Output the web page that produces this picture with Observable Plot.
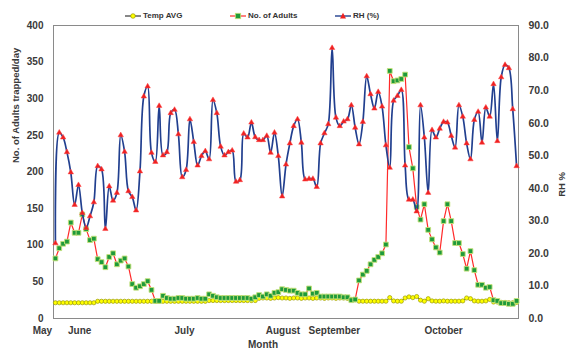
<!DOCTYPE html>
<html><head><meta charset="utf-8">
<script src="https://cdn.jsdelivr.net/npm/d3@7"></script>
<script src="https://cdn.jsdelivr.net/npm/@observablehq/plot@0.6"></script>
<style>
body{margin:0;background:#fff;}
#wrap{position:relative;width:568px;height:351px;font-family:"Liberation Sans",Arial,sans-serif;}
.leg{position:absolute;top:11px;display:flex;align-items:center;font-size:8px;font-weight:bold;color:#333;white-space:nowrap;}
.leg svg{margin-right:2px;display:block}
</style></head><body><div id="wrap"></div>
<script>
const rh = [23.1,57.1,55.6,51.1,44.9,34.9,41.0,32.4,27.8,31.4,35.7,46.8,45.8,27.5,40.6,36.2,38.6,56.3,51.2,39.1,
37.3,33.2,45.2,68.2,71.3,50.9,48.1,65.3,50.1,51.1,63.1,64.1,56.6,43.4,45.6,61.2,54.2,47.0,49.9,51.4,
48.9,67.1,63.1,52.8,50.1,51.1,51.6,42.0,42.5,56.8,55.6,60.2,55.7,54.8,54.8,56.1,50.9,57.1,49.9,37.5,
47.3,53.8,59.1,61.2,54.0,42.7,42.9,42.9,40.4,53.8,56.9,59.7,83.1,61.7,59.1,60.5,61.2,65.5,58.6,53.5,
60.4,74.4,68.9,64.5,69.6,65.1,53.2,46.3,66.9,68.4,70.2,47.0,36.5,36.5,32.9,65.5,55.6,38.6,57.9,55.6,
58.3,60.4,60.2,56.1,52.5,65.5,62.0,53.8,48.9,61.0,63.5,54.0,64.8,62.0,72.0,54.5,74.1,77.9,76.9,64.3,46.8];
const adults = [82,96,102,105,131,117,117,142,122,107,109,81,77,70,84,89,74,79,82,71,
47,42,44,47,51,39,24,24,31,28,27,27,28,28,27,27,27,28,27,27,
33,31,29,28,28,28,28,28,28,28,28,27,29,32,30,33,31,35,36,40,
39,38,38,35,33,33,41,34,35,30,30,30,30,30,30,29,29,25,26,52,
60,65,74,80,84,89,101,338,324,325,327,333,234,205,152,135,156,121,108,97,
90,133,156,133,103,103,88,68,92,66,46,46,42,43,25,24,21,21,20,20,24];
const temp = [21.5,21.5,21.5,21.5,21.5,21.5,21.5,21.5,21.5,21.5,21.5,23.5,23.5,23.5,23.5,23.5,23.5,23.5,23.5,23.5,
23.5,23.5,23.5,23.5,23.5,23.5,23.5,23.5,23.5,23.5,23.5,23.5,23.5,23.5,23.5,23.5,23.5,23.5,23.5,23.5,
24.5,24.5,24.5,24.5,24.5,24.5,24.5,24.5,24.5,24.5,24.5,24.5,24.5,27.5,28,28,27.5,28,28.5,28,
28,27.5,28,28,27.5,28,28,27.5,28,28,27.5,28,28,27.5,28,28,27.5,26,25.5,23.6,
23.6,23.6,23.6,23.6,23.6,23.6,23.6,28.5,24,23.6,23.6,28,29.5,28.5,30,25,23.6,27,24,23.6,
23.6,24,23.6,23.6,23.6,23.6,24,28,27,24,23.6,23.6,24,26,22.5,22.5,22,22,21.5,21.5,22];
const monthLabels = ["May","June","July","August","September","October"];
const monthPos = [-3.4, 6.3, 33.6, 59.2, 72.6, 101.0];
const leftTicks = [0,50,100,150,200,250,300,350,400];
const rhTicks = [0,10,20,30,40,50,60,70,80,90];
const leftMax = 400, rhMax = 90;
const yLabel = "No. of Adults trapped/day";
const y2Label = "RH %";
const xLabel = "Month";
const seriesNames = ["Temp AVG","No. of Adults","RH (%)"];

const data = rh.map((v, i) => ({i, rhY: v * leftMax / rhMax, adults: adults[i], temp: temp[i]}));
const txt = "#3a3a3a";

const chart = Plot.plot({
  width: 568, height: 351,
  marginLeft: 53, marginRight: 50, marginTop: 25, marginBottom: 33,
  style: {fontFamily: "Liberation Sans, Arial, sans-serif", background: "transparent", overflow: "visible"},
  x: {domain: [-0.5, rh.length - 0.5], axis: null},
  y: {domain: [0, leftMax], axis: null},
  marks: [
    Plot.frame({stroke: "#8a8a8a", strokeWidth: 1}),
    Plot.line(data, {x: "i", y: "temp", stroke: "#111", strokeWidth: 0.8}),
    Plot.dot(data, {x: "i", y: "temp", symbol: "circle", r: 2.1, fill: "#ffff00", stroke: "#9a9a00", strokeWidth: 0.7}),
    Plot.line(data, {x: "i", y: "adults", stroke: "#ff2a2a", strokeWidth: 1.2}),
    Plot.dot(data, {x: "i", y: "adults", symbol: "square", r: 2.7, fill: "#1e9a3a", stroke: "#c6e27a", strokeWidth: 0.9}),
    Plot.line(data, {x: "i", y: "rhY", stroke: "#213f8f", strokeWidth: 1.7, curve: "catmull-rom"}),
    Plot.dot(data, {x: "i", y: "rhY", symbol: "triangle", r: 2.0, fill: "#ee2020", stroke: "#ff4040", strokeWidth: 0.5}),
    Plot.axisY(leftTicks, {anchor: "left", tickSize: 0, tickPadding: 10, fontSize: 10, fontWeight: "bold", fill: txt, label: null}),
    Plot.axisY(rhTicks.map(t => t * leftMax / rhMax), {anchor: "right", tickSize: 0, tickPadding: 10, fontSize: 10.5, fontWeight: "bold", fill: txt, label: null, tickFormat: d => (d * rhMax / leftMax).toFixed(1)}),
    Plot.text(monthLabels, {x: (d, i) => monthPos[i], frameAnchor: "bottom", dy: 15, fontSize: 10, fontWeight: "bold", fill: txt}),
    Plot.text([xLabel], {frameAnchor: "bottom", dx: -23, dy: 29, fontSize: 10, fontWeight: "bold", fill: txt}),
    Plot.text([yLabel], {frameAnchor: "left", dx: -38, dy: -9, rotate: -90, fontSize: 9.5, fontWeight: "bold", fill: txt}),
    Plot.text([y2Label], {frameAnchor: "right", dx: 43, rotate: -90, fontSize: 9.5, fontWeight: "bold", fill: txt})
  ]
});
const wrap = document.getElementById("wrap");
wrap.appendChild(chart);

const legSyms = [
  `<line x1="0" y1="4" x2="16" y2="4" stroke="#111" stroke-width="1"/><circle cx="8" cy="4" r="2.3" fill="#ffff00" stroke="#9a9a00" stroke-width="0.7"/>`,
  `<line x1="0" y1="4" x2="16" y2="4" stroke="#ff2a2a" stroke-width="1.2"/><rect x="5.3" y="1.3" width="5.4" height="5.4" fill="#1e9a3a" stroke="#c6e27a" stroke-width="0.8"/>`,
  `<line x1="0" y1="4" x2="16" y2="4" stroke="#213f8f" stroke-width="1.4"/><path d="M8,0.8 L11,6.4 L5,6.4 Z" fill="#ee2020"/>`
];
const legLeft = [125, 230, 335];
seriesNames.forEach((name, k) => {
  const d = document.createElement("div");
  d.className = "leg";
  d.style.left = legLeft[k] + "px";
  d.innerHTML = `<svg width="16" height="8">${legSyms[k]}</svg><span>${name}</span>`;
  wrap.appendChild(d);
});
</script></body></html>
